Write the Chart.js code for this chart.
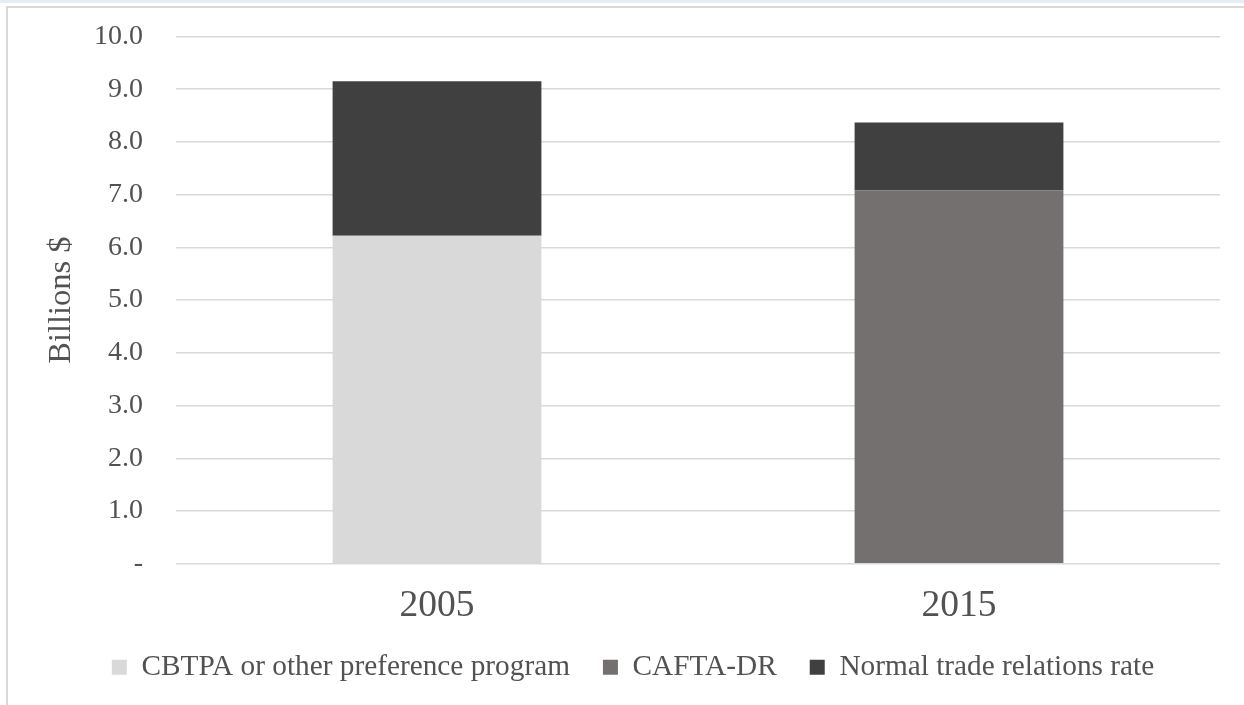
<!DOCTYPE html>
<html>
<head>
<meta charset="utf-8">
<script src="https://cdn.jsdelivr.net/npm/chart.js@4"></script>
<style>
  body { margin: 0; background: #fff; width: 1244px; height: 705px; overflow: hidden; position: relative; }
  #strip { position: absolute; left: 0; top: 0; width: 1244px; height: 3px; background: #e6edf7; }
  #frame { position: absolute; left: 6px; top: 6px; width: 1238px; height: 699px;
           border-left: 2px solid #d9d9d9; border-top: 2px solid #d9d9d9; box-sizing: border-box; }
  #chart { position: absolute; left: 8px; top: 8px; }
</style>
</head>
<body>
<div id="strip"></div>
<div id="frame"></div>
<canvas id="chart" width="1236" height="697"></canvas>
<script>
const years = ["2005", "2015"];
const seriesNames = ["CBTPA or other preference program", "CAFTA-DR", "Normal trade relations rate"];
const cbtpaValues = [6.22, null];
const caftaValues = [null, 7.08];
const ntrValues = [2.93, 1.29];
const yTicks = [0, 1, 2, 3, 4, 5, 6, 7, 8, 9, 10];

const textColor = "#525252";
const serif = "'Liberation Serif', 'Times New Roman', serif";

// legend in the original sits a little right of the canvas centre
const legendShift = {
  id: "legendShift",
  afterLayout(chart) {
    chart.legend.left += 19;
    chart.legend.right += 19;
  },
};

new Chart(document.getElementById("chart"), {
  type: "bar",
  data: {
    labels: years,
    datasets: [
      { label: seriesNames[0], data: cbtpaValues, backgroundColor: "#d9d9d9" },
      { label: seriesNames[1], data: caftaValues, backgroundColor: "#747070" },
      { label: seriesNames[2], data: ntrValues, backgroundColor: "#404040" },
    ],
  },
  options: {
    responsive: false,
    animation: false,
    layout: { padding: { top: 28.5, right: 24, left: 0, bottom: 13 } },
    datasets: { bar: { barPercentage: 0.4, categoryPercentage: 1.0 } },
    scales: {
      x: {
        stacked: true,
        grid: { display: false, drawTicks: false },
        border: { display: false },
        ticks: { color: textColor, padding: 20, font: { family: serif, size: 37.5 } },
        afterFit(scale) {
          scale.height = 56;
        },
      },
      y: {
        stacked: true,
        min: 0,
        max: 10,
        afterBuildTicks(scale) {
          scale.ticks = yTicks.map((v) => ({ value: v }));
        },
        grid: { color: "#d9d9d9", lineWidth: 1.5, drawTicks: false },
        border: { display: false },
        ticks: {
          color: textColor,
          padding: 33,
          font: { family: serif, size: 28 },
          callback: (v) => (v === 0 ? "-" : v.toFixed(1)),
        },
        title: {
          display: true,
          text: "Billions $",
          color: textColor,
          font: { family: serif, size: 32.5 },
          padding: { top: 34, bottom: 0 },
        },
        afterFit(scale) {
          scale.width = 168;
          // tick padding would otherwise push the plot area down
          scale.paddingTop = 0;
          scale.paddingBottom = 0;
        },
      },
    },
    plugins: {
      tooltip: { enabled: false },
      legend: {
        position: "bottom",
        labels: {
          color: textColor,
          boxWidth: 15,
          boxHeight: 15,
          padding: 33,
          font: { family: serif, size: 29.3 },
        },
      },
    },
  },
  plugins: [legendShift],
});
</script>
</body>
</html>
